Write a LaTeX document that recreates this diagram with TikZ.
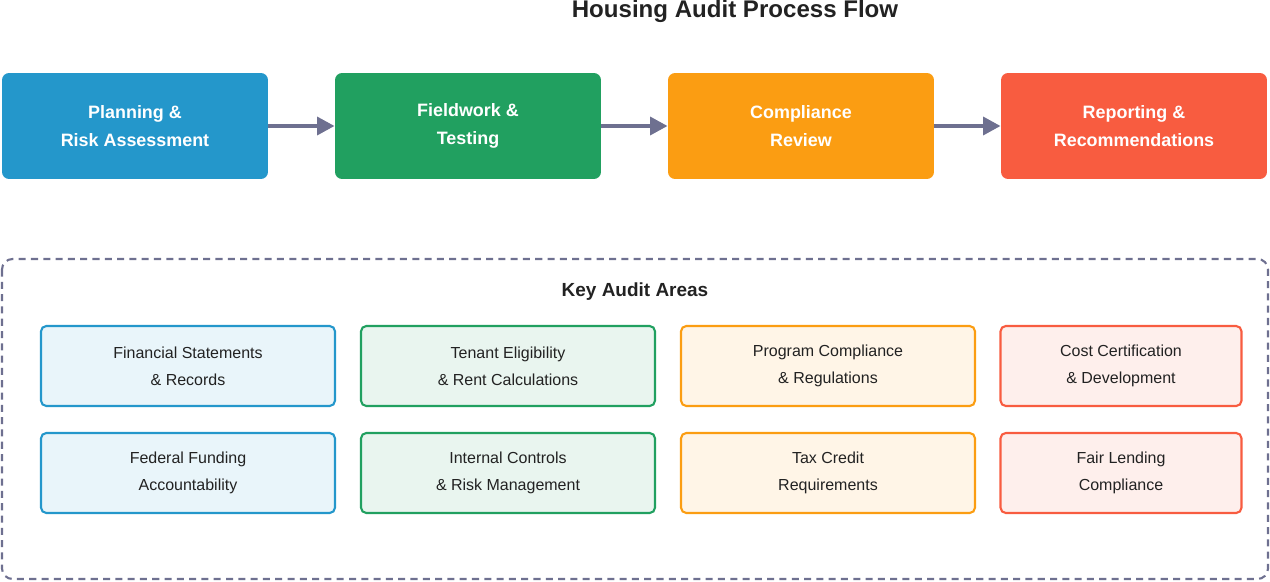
\documentclass[tikz,border=0pt]{standalone}
\usepackage{fontspec}
\setmainfont{Liberation Sans}
\usetikzlibrary{positioning, arrows.meta}
\definecolor{cblue}{HTML}{2497CB}
\definecolor{cgreen}{HTML}{21A060}
\definecolor{corange}{HTML}{FB9D12}
\definecolor{cred}{HTML}{F85C40}
\definecolor{carrow}{HTML}{6E7090}
\definecolor{ctext}{HTML}{222222}
\tikzset{
x=0.02cm, y=-0.02cm,
stage/.style={rounded corners=4pt, minimum width=5.32cm, minimum height=2.12cm, text=white, align=center, font=\fontsize{10.2}{15.5}\selectfont\bfseries}, % top process boxes
area/.style={rounded corners=3pt, line width=1.2pt, minimum height=1.6cm, align=center, text=ctext, font=\fontsize{9.1}{15.2}\selectfont}, % key area boxes
flow/.style={-{Triangle[length=10pt, width=10pt]}, line width=2.5pt, carrow},
}
\begin{document}
\begin{tikzpicture}
\useasboundingbox (0,0) rectangle (1270,581);
\node[font=\fontsize{13.7}{16}\selectfont\bfseries, text=ctext] (title) at (735,11) {Housing Audit Process Flow};
% process stages
\node[stage, fill=cblue] (plan) at (135,126) {Planning \&\\Risk Assessment};
\node[stage, fill=cgreen] (field) at (468,126) {Fieldwork \&\\Testing};
\node[stage, fill=corange] (comp) at (801,126) {Compliance\\Review};
\node[stage, fill=cred] (report) at (1134,126) {Reporting \&\\Recommendations};
\draw[flow] (plan) -- (field);
\draw[flow] (field) -- (comp);
\draw[flow] (comp) -- (report);
% key audit areas
\draw[dashed, carrow, line width=1.2pt, rounded corners=6pt, dash pattern=on 4pt off 3pt] (2,259) rectangle (1268,579);
\node[font=\fontsize{10.8}{13}\selectfont\bfseries, text=ctext] (key) at (635,292) {Key Audit Areas};
\node[area, draw=cblue, fill=cblue!10, minimum width=5.88cm] (fin) at (188,366) {Financial Statements\\\& Records};
\node[area, draw=cgreen, fill=cgreen!10, minimum width=5.88cm] (ten) at (508,366) {Tenant Eligibility\\\& Rent Calculations};
\node[area, draw=corange, fill=corange!10, minimum width=5.88cm] (prog) at (828,366) {Program Compliance\\\& Regulations};
\node[area, draw=cred, fill=cred!10, minimum width=4.82cm] (cost) at (1121,366) {Cost Certification\\\& Development};
\node[area, draw=cblue, fill=cblue!10, minimum width=5.88cm] (fed) at (188,473) {Federal Funding\\Accountability};
\node[area, draw=cgreen, fill=cgreen!10, minimum width=5.88cm] (ctrl) at (508,473) {Internal Controls\\\& Risk Management};
\node[area, draw=corange, fill=corange!10, minimum width=5.88cm] (tax) at (828,473) {Tax Credit\\Requirements};
\node[area, draw=cred, fill=cred!10, minimum width=4.82cm] (fair) at (1121,473) {Fair Lending\\Compliance};
\end{tikzpicture}
\end{document}
